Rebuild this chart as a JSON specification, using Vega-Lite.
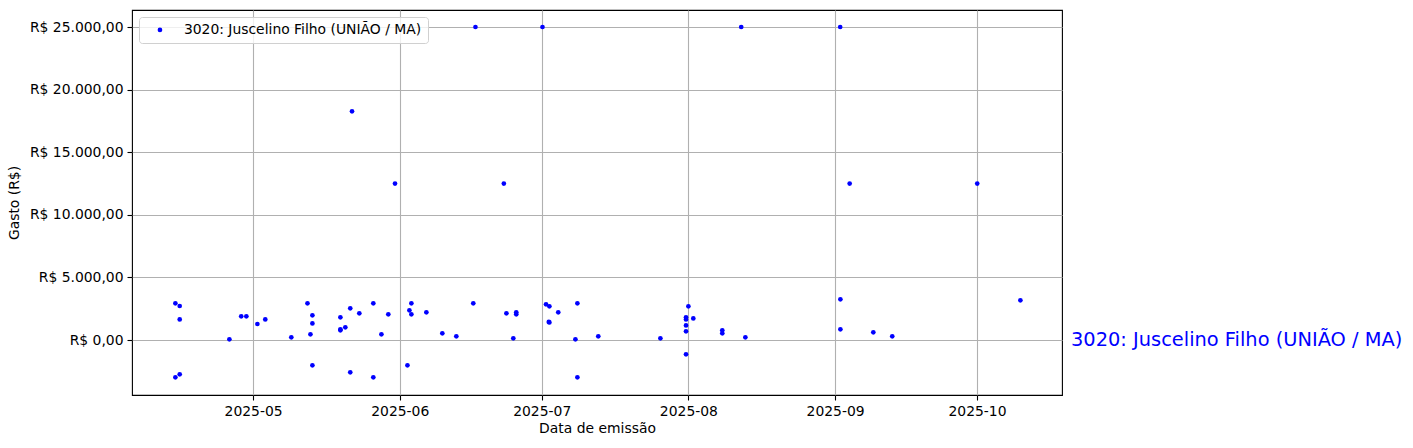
{
  "$schema": "https://vega.github.io/schema/vega-lite/v6.json",
  "width": 930,
  "height": 385,
  "autosize": {"type": "none"},
  "padding": {"left": 132, "top": 10, "right": 351, "bottom": 53},
  "background": "white",
  "config": {
    "view": {"stroke": "black", "strokeWidth": 1.1},
    "axis": {
      "domain": false,
      "tickColor": "black",
      "tickWidth": 1.1,
      "tickSize": 5,
      "labelPadding": 4,
      "labelColor": "black",
      "labelFont": "DejaVu Sans",
      "labelFontSize": 13.9,
      "titleFont": "DejaVu Sans",
      "titleFontSize": 13.9,
      "titleFontWeight": "normal",
      "titleColor": "black",
      "gridColor": "#b0b0b0",
      "gridWidth": 1.1
    },
    "legend": {
      "labelFont": "DejaVu Sans",
      "labelFontSize": 13.9,
      "labelColor": "black",
      "labelLimit": 0
    }
  },
  "layer": [
    {
      "data": {
        "values": [
          {"data": "2025-04-14T14:00:00Z", "gasto": 2930, "deputado": "3020: Juscelino Filho (UNIÃO / MA)"},
          {"data": "2025-04-15T12:00:00Z", "gasto": 2720, "deputado": "3020: Juscelino Filho (UNIÃO / MA)"},
          {"data": "2025-04-15T12:00:00Z", "gasto": 1650, "deputado": "3020: Juscelino Filho (UNIÃO / MA)"},
          {"data": "2025-04-14T14:00:00Z", "gasto": -2980, "deputado": "3020: Juscelino Filho (UNIÃO / MA)"},
          {"data": "2025-04-15T12:00:00Z", "gasto": -2740, "deputado": "3020: Juscelino Filho (UNIÃO / MA)"},
          {"data": "2025-04-26T00:00:00Z", "gasto": 56, "deputado": "3020: Juscelino Filho (UNIÃO / MA)"},
          {"data": "2025-04-28T12:00:00Z", "gasto": 1890, "deputado": "3020: Juscelino Filho (UNIÃO / MA)"},
          {"data": "2025-04-29T14:00:00Z", "gasto": 1890, "deputado": "3020: Juscelino Filho (UNIÃO / MA)"},
          {"data": "2025-05-01T22:00:00Z", "gasto": 1280, "deputado": "3020: Juscelino Filho (UNIÃO / MA)"},
          {"data": "2025-05-03T14:00:00Z", "gasto": 1650, "deputado": "3020: Juscelino Filho (UNIÃO / MA)"},
          {"data": "2025-05-09T02:00:00Z", "gasto": 216, "deputado": "3020: Juscelino Filho (UNIÃO / MA)"},
          {"data": "2025-05-12T12:00:00Z", "gasto": 2930, "deputado": "3020: Juscelino Filho (UNIÃO / MA)"},
          {"data": "2025-05-13T13:00:00Z", "gasto": 1970, "deputado": "3020: Juscelino Filho (UNIÃO / MA)"},
          {"data": "2025-05-13T13:00:00Z", "gasto": 1330, "deputado": "3020: Juscelino Filho (UNIÃO / MA)"},
          {"data": "2025-05-13T03:00:00Z", "gasto": 455, "deputado": "3020: Juscelino Filho (UNIÃO / MA)"},
          {"data": "2025-05-13T13:00:00Z", "gasto": -2020, "deputado": "3020: Juscelino Filho (UNIÃO / MA)"},
          {"data": "2025-05-19T11:00:00Z", "gasto": 1810, "deputado": "3020: Juscelino Filho (UNIÃO / MA)"},
          {"data": "2025-05-19T11:00:00Z", "gasto": 855, "deputado": "3020: Juscelino Filho (UNIÃO / MA)"},
          {"data": "2025-05-19T11:00:00Z", "gasto": 775, "deputado": "3020: Juscelino Filho (UNIÃO / MA)"},
          {"data": "2025-05-20T12:00:00Z", "gasto": 1015, "deputado": "3020: Juscelino Filho (UNIÃO / MA)"},
          {"data": "2025-05-21T13:00:00Z", "gasto": 2530, "deputado": "3020: Juscelino Filho (UNIÃO / MA)"},
          {"data": "2025-05-21T13:00:00Z", "gasto": -2580, "deputado": "3020: Juscelino Filho (UNIÃO / MA)"},
          {"data": "2025-05-21T22:00:00Z", "gasto": 18270, "deputado": "3020: Juscelino Filho (UNIÃO / MA)"},
          {"data": "2025-05-23T11:00:00Z", "gasto": 2130, "deputado": "3020: Juscelino Filho (UNIÃO / MA)"},
          {"data": "2025-05-26T10:00:00Z", "gasto": 2930, "deputado": "3020: Juscelino Filho (UNIÃO / MA)"},
          {"data": "2025-05-26T10:00:00Z", "gasto": -2980, "deputado": "3020: Juscelino Filho (UNIÃO / MA)"},
          {"data": "2025-05-28T03:00:00Z", "gasto": 455, "deputado": "3020: Juscelino Filho (UNIÃO / MA)"},
          {"data": "2025-05-29T14:00:00Z", "gasto": 2050, "deputado": "3020: Juscelino Filho (UNIÃO / MA)"},
          {"data": "2025-05-31T00:00:00Z", "gasto": 12500, "deputado": "3020: Juscelino Filho (UNIÃO / MA)"},
          {"data": "2025-06-02T15:00:00Z", "gasto": -2020, "deputado": "3020: Juscelino Filho (UNIÃO / MA)"},
          {"data": "2025-06-03T01:00:00Z", "gasto": 2370, "deputado": "3020: Juscelino Filho (UNIÃO / MA)"},
          {"data": "2025-06-03T11:00:00Z", "gasto": 2930, "deputado": "3020: Juscelino Filho (UNIÃO / MA)"},
          {"data": "2025-06-03T11:00:00Z", "gasto": 2050, "deputado": "3020: Juscelino Filho (UNIÃO / MA)"},
          {"data": "2025-06-06T15:00:00Z", "gasto": 2210, "deputado": "3020: Juscelino Filho (UNIÃO / MA)"},
          {"data": "2025-06-10T00:00:00Z", "gasto": 535, "deputado": "3020: Juscelino Filho (UNIÃO / MA)"},
          {"data": "2025-06-12T23:00:00Z", "gasto": 296, "deputado": "3020: Juscelino Filho (UNIÃO / MA)"},
          {"data": "2025-06-16T13:00:00Z", "gasto": 2930, "deputado": "3020: Juscelino Filho (UNIÃO / MA)"},
          {"data": "2025-06-17T00:00:00Z", "gasto": 25000, "deputado": "3020: Juscelino Filho (UNIÃO / MA)"},
          {"data": "2025-06-23T00:00:00Z", "gasto": 12500, "deputado": "3020: Juscelino Filho (UNIÃO / MA)"},
          {"data": "2025-06-23T13:00:00Z", "gasto": 2130, "deputado": "3020: Juscelino Filho (UNIÃO / MA)"},
          {"data": "2025-06-25T00:00:00Z", "gasto": 136, "deputado": "3020: Juscelino Filho (UNIÃO / MA)"},
          {"data": "2025-06-25T15:00:00Z", "gasto": 2210, "deputado": "3020: Juscelino Filho (UNIÃO / MA)"},
          {"data": "2025-06-25T15:00:00Z", "gasto": 2050, "deputado": "3020: Juscelino Filho (UNIÃO / MA)"},
          {"data": "2025-07-01T04:00:00Z", "gasto": 25000, "deputado": "3020: Juscelino Filho (UNIÃO / MA)"},
          {"data": "2025-07-01T22:00:00Z", "gasto": 2850, "deputado": "3020: Juscelino Filho (UNIÃO / MA)"},
          {"data": "2025-07-02T15:00:00Z", "gasto": 2690, "deputado": "3020: Juscelino Filho (UNIÃO / MA)"},
          {"data": "2025-07-02T15:00:00Z", "gasto": 1410, "deputado": "3020: Juscelino Filho (UNIÃO / MA)"},
          {"data": "2025-07-02T12:00:00Z", "gasto": 1450, "deputado": "3020: Juscelino Filho (UNIÃO / MA)"},
          {"data": "2025-07-04T12:00:00Z", "gasto": 2210, "deputado": "3020: Juscelino Filho (UNIÃO / MA)"},
          {"data": "2025-07-08T03:00:00Z", "gasto": 56, "deputado": "3020: Juscelino Filho (UNIÃO / MA)"},
          {"data": "2025-07-08T13:00:00Z", "gasto": 2930, "deputado": "3020: Juscelino Filho (UNIÃO / MA)"},
          {"data": "2025-07-08T13:00:00Z", "gasto": -2980, "deputado": "3020: Juscelino Filho (UNIÃO / MA)"},
          {"data": "2025-07-12T23:00:00Z", "gasto": 296, "deputado": "3020: Juscelino Filho (UNIÃO / MA)"},
          {"data": "2025-07-26T02:00:00Z", "gasto": 136, "deputado": "3020: Juscelino Filho (UNIÃO / MA)"},
          {"data": "2025-07-31T12:00:00Z", "gasto": 1810, "deputado": "3020: Juscelino Filho (UNIÃO / MA)"},
          {"data": "2025-07-31T12:00:00Z", "gasto": 1650, "deputado": "3020: Juscelino Filho (UNIÃO / MA)"},
          {"data": "2025-07-31T12:00:00Z", "gasto": 1170, "deputado": "3020: Juscelino Filho (UNIÃO / MA)"},
          {"data": "2025-07-31T12:00:00Z", "gasto": 695, "deputado": "3020: Juscelino Filho (UNIÃO / MA)"},
          {"data": "2025-07-31T12:00:00Z", "gasto": -1140, "deputado": "3020: Juscelino Filho (UNIÃO / MA)"},
          {"data": "2025-08-01T00:00:00Z", "gasto": 2690, "deputado": "3020: Juscelino Filho (UNIÃO / MA)"},
          {"data": "2025-08-02T01:00:00Z", "gasto": 1730, "deputado": "3020: Juscelino Filho (UNIÃO / MA)"},
          {"data": "2025-08-08T04:00:00Z", "gasto": 775, "deputado": "3020: Juscelino Filho (UNIÃO / MA)"},
          {"data": "2025-08-08T04:00:00Z", "gasto": 535, "deputado": "3020: Juscelino Filho (UNIÃO / MA)"},
          {"data": "2025-08-12T04:00:00Z", "gasto": 25000, "deputado": "3020: Juscelino Filho (UNIÃO / MA)"},
          {"data": "2025-08-13T01:00:00Z", "gasto": 216, "deputado": "3020: Juscelino Filho (UNIÃO / MA)"},
          {"data": "2025-09-02T02:00:00Z", "gasto": 25000, "deputado": "3020: Juscelino Filho (UNIÃO / MA)"},
          {"data": "2025-09-02T03:00:00Z", "gasto": 3250, "deputado": "3020: Juscelino Filho (UNIÃO / MA)"},
          {"data": "2025-09-02T03:00:00Z", "gasto": 855, "deputado": "3020: Juscelino Filho (UNIÃO / MA)"},
          {"data": "2025-09-04T02:00:00Z", "gasto": 12500, "deputado": "3020: Juscelino Filho (UNIÃO / MA)"},
          {"data": "2025-09-09T02:00:00Z", "gasto": 615, "deputado": "3020: Juscelino Filho (UNIÃO / MA)"},
          {"data": "2025-09-13T02:00:00Z", "gasto": 296, "deputado": "3020: Juscelino Filho (UNIÃO / MA)"},
          {"data": "2025-10-01T01:00:00Z", "gasto": 12500, "deputado": "3020: Juscelino Filho (UNIÃO / MA)"},
          {"data": "2025-10-10T04:00:00Z", "gasto": 3170, "deputado": "3020: Juscelino Filho (UNIÃO / MA)"}
        ]
      },
      "mark": {"type": "circle", "size": 22, "opacity": 1},
      "encoding": {
        "x": {
          "field": "data",
          "type": "temporal",
          "title": "Data de emissão",
          "scale": {
            "type": "utc",
            "domain": [
              {"year": 2025, "month": 4, "date": 5, "hours": 10, "utc": true},
              {"year": 2025, "month": 10, "date": 18, "hours": 23, "utc": true}
            ],
            "nice": false
          },
          "axis": {
            "format": "%Y-%m",
            "values": [
              {"year": 2025, "month": 5, "date": 1, "utc": true},
              {"year": 2025, "month": 6, "date": 1, "utc": true},
              {"year": 2025, "month": 7, "date": 1, "utc": true},
              {"year": 2025, "month": 8, "date": 1, "utc": true},
              {"year": 2025, "month": 9, "date": 1, "utc": true},
              {"year": 2025, "month": 10, "date": 1, "utc": true}
            ],
            "titlePadding": 4
          }
        },
        "y": {
          "field": "gasto",
          "type": "quantitative",
          "title": "Gasto (R$)",
          "scale": {"domain": [-4390, 26360], "nice": false, "zero": false},
          "axis": {
            "values": [0, 5000, 10000, 15000, 20000, 25000],
            "labelExpr": "'R$ ' + replace(replace(replace(format(datum.value, ',.2f'), ',', '_'), '.', ','), '_', '.')",
            "titlePadding": 8
          }
        },
        "color": {
          "field": "deputado",
          "type": "nominal",
          "scale": {"range": ["blue"]},
          "legend": {
            "title": null,
            "orient": "top-left",
            "offset": 7,
            "padding": 6,
            "strokeColor": "#d0d0d0",
            "fillColor": "rgba(255,255,255,0.8)",
            "cornerRadius": 3,
            "symbolType": "circle",
            "symbolSize": 22,
            "symbolOffset": 8,
            "labelOffset": 17,
            "labelLimit": 0
          }
        }
      }
    },
    {
      "data": {"values": [{"rotulo": "3020: Juscelino Filho (UNIÃO / MA)"}]},
      "mark": {
        "type": "text",
        "align": "left",
        "baseline": "middle",
        "dx": 9,
        "clip": false,
        "font": "DejaVu Sans",
        "fontSize": 19.4,
        "color": "blue"
      },
      "encoding": {
        "x": {"datum": {"year": 2025, "month": 10, "date": 18, "hours": 23, "utc": true}, "type": "temporal"},
        "y": {"datum": 0, "type": "quantitative"},
        "text": {"field": "rotulo"}
      }
    }
  ]
}
